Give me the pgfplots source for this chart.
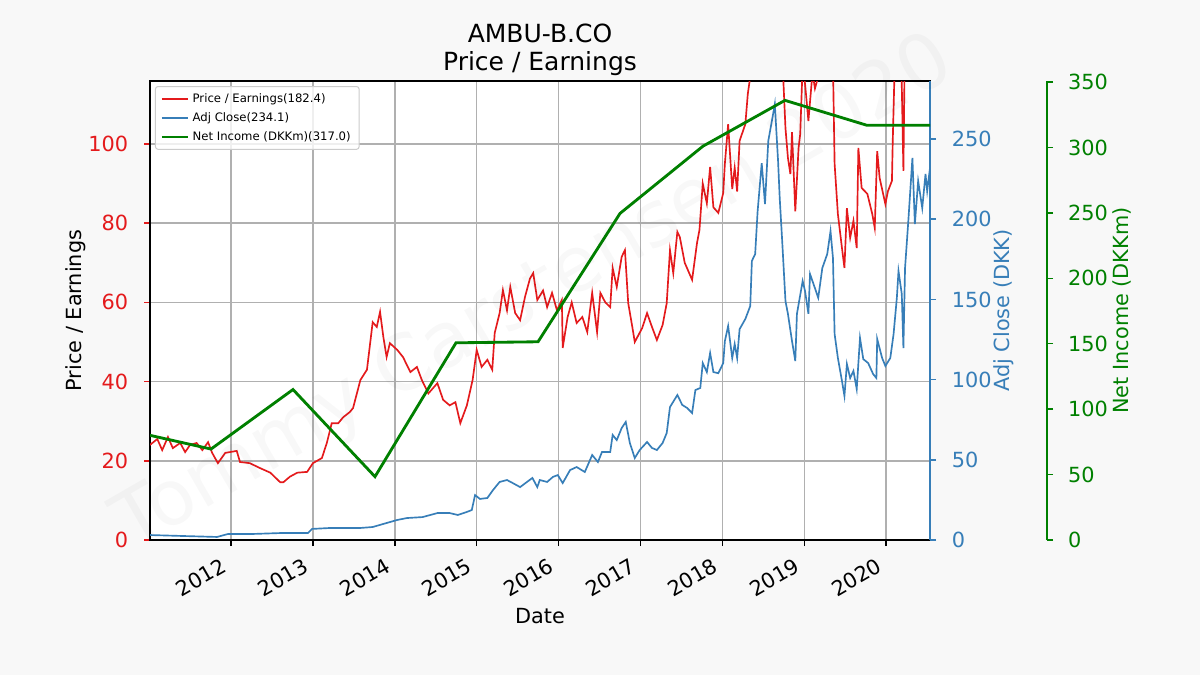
\documentclass[border=0pt]{standalone}
\usepackage{fontspec}
\setmainfont{DejaVu Sans}
\usepackage{pgfplots}
\pgfplotsset{compat=1.18}
\definecolor{bg}{RGB}{248,248,248}
\definecolor{pered}{RGB}{228,26,28}
\definecolor{adjblue}{RGB}{55,126,184}
\definecolor{nigreen}{RGB}{0,128,0}
\definecolor{gridgray}{RGB}{176,176,176}
\definecolor{legendgray}{RGB}{204,204,204}
\newcommand{\lblfont}{\fontsize{12.5}{15}\selectfont}
\begin{document}
\begin{tikzpicture}[x=1pt,y=1pt]
\fill[bg] (0,0) rectangle (720,405);
\useasboundingbox (0,0) rectangle (720,405);
\pgfplotsset{
  common/.style={
    at={(90pt,81pt)}, anchor=south west,
    width=468pt, height=275.4pt, scale only axis,
    xmin=2011.011, xmax=2020.535,
    tick align=outside, major tick length=3.6pt,
    ticklabel style={font=\lblfont},
    /pgf/number format/assume math mode=true,
  }
}
\begin{axis}[common,
  axis background/.style={fill=white},
  ymin=0, ymax=115.9,
  xtick={2012,2013,2014,2015,2016,2017,2018,2019,2020},
  xticklabels={2012,2013,2014,2015,2016,2017,2018,2019,2020},
  ytick={0,20,40,60,80,100},
  tick pos=left,
  grid=major,
  grid style={gridgray, line width=0.9pt},
  axis line style={black, line width=1pt},
  ytick style={pered, line width=0.9pt},
  xtick style={black, line width=0.9pt},
  yticklabel style={pered, anchor=east, inner sep=0pt, xshift=-9.3pt},
  xticklabel style={xshift=-6.5pt, yshift=-6.5pt, rotate=30, anchor=north east, inner sep=0pt},
  every axis title/.style={at={(axis description cs:0.5,1.0675)}, anchor=center, align=center, font=\fontsize{15}{17}\selectfont},
  title={AMBU-B.CO\\Price / Earnings},
  every axis x label/.style={at={(axis description cs:0.5,-0.1656)}, anchor=center, font=\lblfont},
  xlabel={Date},
  every axis y label/.style={at={(axis description cs:-0.0955,0.5)}, anchor=center, rotate=90, font=\lblfont},
  ylabel={Price / Earnings},
  legend style={at={(0.0064,0.989)}, anchor=north west, font=\fontsize{7}{8.4}\selectfont, draw=legendgray, line width=0.6pt, fill=white, fill opacity=0.8, text opacity=1, rounded corners=1.5pt, row sep=0.6pt, inner ysep=2pt},
  legend cell align=left,
  legend image code/.code={\draw[#1] (0pt,0pt) -- (15.6pt,0pt);},
]
\addplot[pered, line width=1pt] coordinates {
(2011.01,24)(2011.10,25.5)(2011.16,22.7)(2011.23,26)(2011.29,23.2)(2011.38,24.5)(2011.44,22.2)(2011.50,24)(2011.58,24.5)(2011.65,22.7)(2011.72,24.7)(2011.77,22)(2011.84,19.4)(2011.93,22)(2012.07,22.5)(2012.11,19.7)(2012.23,19.4)(2012.35,18.2)(2012.48,17)(2012.60,14.6)(2012.64,14.6)(2012.72,16)(2012.81,17)(2012.93,17.2)(2013.00,19.4)(2013.11,20.7)(2013.17,24.5)(2013.23,29.5)(2013.31,29.5)(2013.37,31)(2013.45,32.3)(2013.49,33.3)(2013.58,40.4)(2013.66,43)(2013.73,55)(2013.78,53.8)(2013.82,57.6)(2013.86,51.3)(2013.90,46.2)(2013.94,49.7)(2014.03,48)(2014.10,46.2)(2014.19,42.4)(2014.27,43.7)(2014.33,40.4)(2014.41,37)(2014.52,39.6)(2014.59,35.4)(2014.67,34)(2014.74,34.8)(2014.80,29.5)(2014.88,34)(2014.95,40.4)(2015.00,48)(2015.06,43.7)(2015.13,45.5)(2015.19,43)(2015.22,52.3)(2015.28,57.3)(2015.32,63.1)(2015.37,58)(2015.41,63.9)(2015.47,57.3)(2015.53,55.5)(2015.59,61.4)(2015.65,66)(2015.69,67.4)(2015.74,60.6)(2015.81,63)(2015.86,58.8)(2015.92,62.4)(2015.98,58)(2016.04,60.6)(2016.05,48.5)(2016.11,56.3)(2016.16,60)(2016.22,54.8)(2016.29,56.3)(2016.35,52.5)(2016.41,62.4)(2016.47,52.5)(2016.51,62.4)(2016.57,60)(2016.63,58.8)(2016.66,68.7)(2016.71,63.9)(2016.77,71.5)(2016.81,73.2)(2016.85,59.8)(2016.90,53.8)(2016.93,50)(2017.02,53.5)(2017.08,57.3)(2017.14,53.8)(2017.20,50.5)(2017.27,54.3)(2017.32,59.8)(2017.36,73.2)(2017.40,67.4)(2017.45,77.8)(2017.48,76.5)(2017.54,70)(2017.63,65.7)(2017.69,75)(2017.72,78.3)(2017.76,90)(2017.81,85)(2017.85,94.2)(2017.89,84)(2017.95,82.6)(2018.01,87.6)(2018.03,95)(2018.07,105)(2018.12,88.6)(2018.15,94)(2018.18,88)(2018.21,100.8)(2018.28,105)(2018.31,112.6)(2018.36,120)(2018.43,135)(2018.52,150)(2018.61,160)(2018.68,140)(2018.74,118)(2018.77,104)(2018.80,96.5)(2018.83,92.4)(2018.85,103)(2018.89,83)(2018.93,99)(2018.95,102.5)(2018.98,120)(2019.01,115)(2019.05,105.8)(2019.10,118)(2019.13,114)(2019.17,117)(2019.22,125)(2019.29,130)(2019.35,120)(2019.37,95)(2019.41,82.3)(2019.46,73.7)(2019.49,68.7)(2019.52,83.8)(2019.56,76.3)(2019.60,80.6)(2019.64,73.7)(2019.66,99)(2019.70,88.9)(2019.77,87.4)(2019.83,82.3)(2019.86,78.8)(2019.89,98.2)(2019.92,91.4)(2019.99,84.8)(2020.02,88)(2020.07,90.7)(2020.08,100.8)(2020.11,125)(2020.14,140)(2020.19,115)(2020.21,93.2)(2020.23,130)(2020.29,160)(2020.35,175)(2020.42,165)(2020.48,180)(2020.54,182.4)
};
\addlegendentry{Price / Earnings(182.4)}
\addlegendimage{adjblue, line width=1pt}
\addlegendentry{Adj Close(234.1)}
\addlegendimage{nigreen, line width=1.7pt}
\addlegendentry{Net Income (DKKm)(317.0)}
\end{axis}
\begin{axis}[common,
  ymin=0, ymax=286.2,
  ytick={0,50,100,150,200,250},
  axis x line=none,
  axis y line*=right,
  y axis line style={adjblue, line width=1pt},
  ytick style={adjblue, line width=0.9pt},
  yticklabel style={adjblue, anchor=west, inner sep=0pt, xshift=9.3pt},
  every axis y label/.style={at={(axis description cs:1.0945,0.5)}, anchor=center, rotate=90, font=\lblfont},
  ylabel={Adj Close (DKK)}, ylabel style={adjblue},
]
\addplot[adjblue, line width=1pt] coordinates {
(2011.01,3.1)(2011.41,2.5)(2011.83,1.9)(2011.96,3.7)(2012.23,3.7)(2012.64,4.4)(2012.94,4.4)(2012.99,6.9)(2013.21,7.5)(2013.58,7.5)(2013.73,8.1)(2013.90,10.6)(2014.03,12.5)(2014.15,13.7)(2014.34,14.3)(2014.52,16.8)(2014.67,16.8)(2014.77,15.6)(2014.88,17.5)(2014.94,18.7)(2014.98,28)(2015.04,25.6)(2015.13,26.2)(2015.20,31.2)(2015.28,36.2)(2015.37,37.4)(2015.44,35.5)(2015.53,33)(2015.68,38.7)(2015.74,33)(2015.77,37.4)(2015.86,36.2)(2015.93,39.3)(2015.99,40.5)(2016.05,35.5)(2016.14,43.6)(2016.22,45.5)(2016.32,42.4)(2016.41,53)(2016.48,48.6)(2016.53,54.9)(2016.63,54.9)(2016.66,65.5)(2016.71,62.3)(2016.77,69.8)(2016.82,73.6)(2016.87,60.5)(2016.93,51.1)(2016.99,56.1)(2017.08,61.1)(2017.14,57.4)(2017.20,56.1)(2017.27,60.5)(2017.32,66.7)(2017.36,82.9)(2017.45,90.4)(2017.51,84.2)(2017.57,82.3)(2017.63,79.2)(2017.67,93.5)(2017.73,94.8)(2017.76,110.3)(2017.81,104.7)(2017.85,116.6)(2017.89,104.7)(2017.95,104)(2018.01,110.3)(2018.03,124)(2018.07,133.4)(2018.12,113.5)(2018.15,122.2)(2018.18,113.5)(2018.21,131.5)(2018.28,137.8)(2018.34,145.9)(2018.36,174)(2018.40,178.3)(2018.43,205)(2018.48,235)(2018.52,209.5)(2018.56,248.8)(2018.61,263)(2018.64,271.8)(2018.68,236)(2018.70,213)(2018.73,186.4)(2018.77,149)(2018.80,141)(2018.85,124)(2018.89,111.6)(2018.91,141)(2018.98,161.5)(2019.01,155)(2019.05,141)(2019.07,165.8)(2019.13,157)(2019.17,151)(2019.22,169.6)(2019.28,178.3)(2019.32,192.6)(2019.35,175.8)(2019.37,128.4)(2019.41,113.5)(2019.46,99.1)(2019.49,89.8)(2019.52,109.7)(2019.56,101)(2019.60,105.4)(2019.64,94.1)(2019.68,126)(2019.72,112.8)(2019.78,110.3)(2019.84,103.5)(2019.88,101)(2019.89,125.3)(2019.95,113.5)(2019.99,108.5)(2020.05,113.5)(2020.09,128.4)(2020.13,151)(2020.15,167.7)(2020.19,153.4)(2020.21,119.7)(2020.23,169.6)(2020.27,198.9)(2020.32,238.2)(2020.35,197)(2020.39,223.8)(2020.44,207)(2020.48,228.2)(2020.50,217.6)(2020.54,234.1)
};
\end{axis}
\begin{axis}[common,
  ymin=0, ymax=350.8,
  ytick={0,50,100,150,200,250,300,350},
  axis x line=none,
  axis y line*=right,
  y axis line style={nigreen, line width=1pt, xshift=70.2pt},
  ytick style={nigreen, line width=0.9pt, xshift=70.2pt},
  yticklabel style={nigreen, anchor=west, inner sep=0pt, xshift=79.1pt},
  every axis y label/.style={at={(axis description cs:1.2455,0.5)}, anchor=center, rotate=90, font=\lblfont},
  ylabel={Net Income (DKKm)}, ylabel style={nigreen},
]
\addplot[nigreen, line width=1.7pt] coordinates {
(2011.011,80)(2011.756,69.5)(2012.757,115)(2013.758,48.4)(2014.747,150.7)(2015.749,151.5)(2016.75,249.6)(2017.763,301)(2018.764,336)(2019.762,317)(2020.535,317)
};
\end{axis}
\node[rotate=30, text=black, text opacity=0.028, font=\fontsize{46}{50}\selectfont] at (321,228) {Tommy Carstensen 2020};
\end{tikzpicture}
\end{document}
